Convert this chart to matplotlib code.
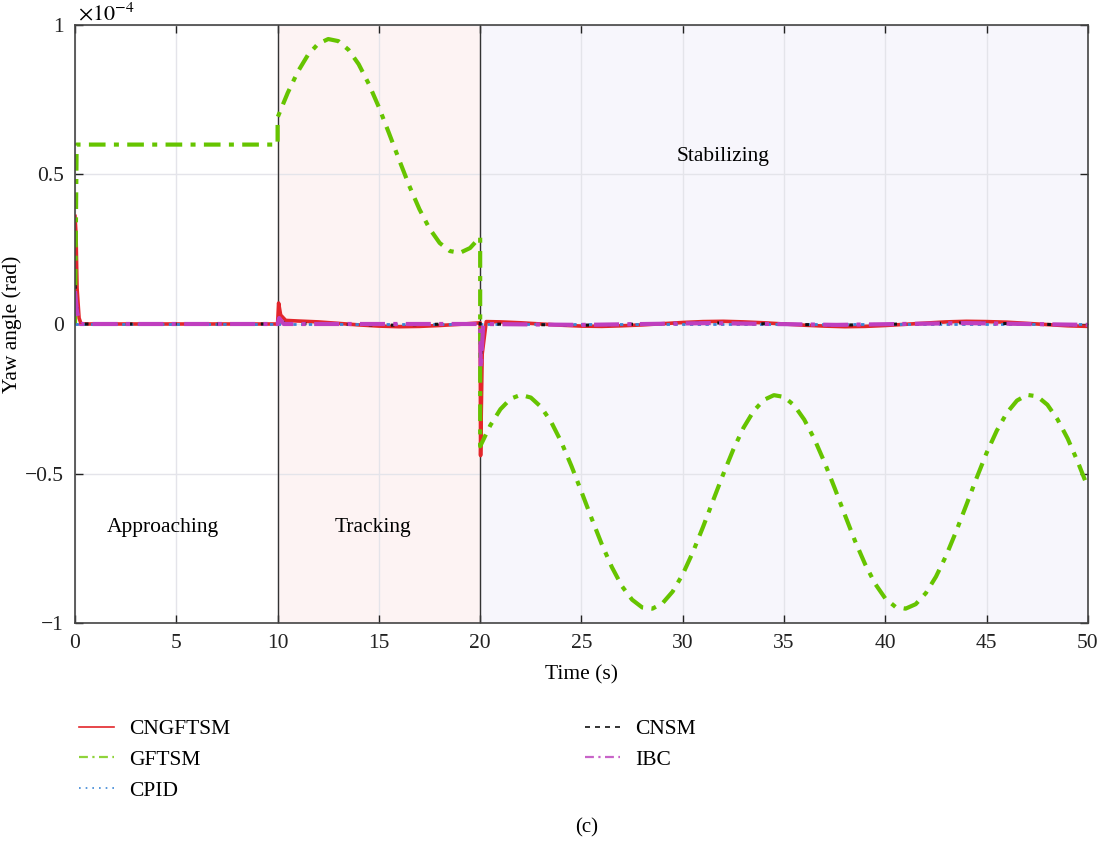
import matplotlib
matplotlib.use("Agg")
import matplotlib.pyplot as plt
from matplotlib.lines import Line2D

plt.rcParams['font.family'] = ['Liberation Serif', 'DejaVu Serif']
plt.rcParams['mathtext.fontset'] = 'stix'

# yaw angle in units of 1e-4 rad
t_gftsm = [0, 0.08, 10, 10,
           10.5, 11, 11.5, 12, 12.5, 13, 13.5, 14, 14.5, 15, 15.5, 16, 16.5,
           17, 17.5, 18, 18.5, 19, 19.5, 20, 20,
           20.5, 21, 21.5, 22, 22.5, 23, 23.5, 24, 24.5, 25, 25.5, 26, 26.5,
           27, 27.5, 28, 28.5, 29, 29.5, 30, 30.5, 31, 31.5, 32, 32.5, 33,
           33.5, 34, 34.5, 35, 35.5, 36, 36.5, 37, 37.5, 38, 38.5, 39, 39.5,
           40, 40.5, 41, 41.5, 42, 42.5, 43, 43.5, 44, 44.5, 45, 45.5, 46,
           46.5, 47, 47.5, 48, 48.5, 49, 49.5, 50]
y_gftsm = [0.0, 0.6, 0.6, 0.691,
           0.773, 0.844, 0.900, 0.937, 0.953, 0.946, 0.917, 0.869, 0.803,
           0.725, 0.638, 0.549, 0.462, 0.384, 0.319, 0.271, 0.244, 0.238,
           0.254, 0.291, -0.409,
           -0.339, -0.285, -0.250, -0.237, -0.246, -0.277, -0.327, -0.394,
           -0.474, -0.561, -0.650, -0.736, -0.813, -0.877, -0.922, -0.948,
           -0.952, -0.934, -0.895, -0.837, -0.763, -0.679, -0.590, -0.502,
           -0.419, -0.347, -0.291, -0.254, -0.238, -0.244, -0.272, -0.320,
           -0.385, -0.463, -0.549, -0.638, -0.725, -0.803, -0.869, -0.918,
           -0.946, -0.952, -0.937, -0.900, -0.845, -0.775, -0.693, -0.605,
           -0.516, -0.431, -0.357, -0.297, -0.256, -0.237, -0.242, -0.270,
           -0.319, -0.383, -0.461, -0.547]

t_cngftsm = [0, 0.05, 0.1, 0.2, 0.3, 10, 10.05, 10.15, 10.4, 11, 12, 13, 14,
             15, 16, 17, 18, 19, 20, 20.02, 20.1, 20.3, 21, 22, 23, 24, 25,
             26, 27, 28, 29, 30, 31, 32, 33, 34, 35, 36, 37, 38, 39, 40, 41,
             42, 43, 44, 45, 46, 47, 48, 49, 50]
y_cngftsm = [0.36, 0.3, 0.12, 0.02, 0.0, 0.0, 0.07, 0.03, 0.012, 0.01,
             0.007, 0.002, -0.003, -0.007, -0.009, -0.008, -0.005, -0.001,
             0.004, -0.44, -0.1, 0.008, 0.007, 0.004, 0.0, -0.004, -0.007,
             -0.008, -0.006, -0.003, 0.001, 0.005, 0.008, 0.009, 0.007,
             0.004, 0.0, -0.004, -0.007, -0.009, -0.008, -0.005, -0.001,
             0.003, 0.007, 0.009, 0.008, 0.006, 0.002, -0.002, -0.006,
             -0.008]

t_cpid = [0, 50]
y_cpid = [0.0, 0.0]

t_cnsm = [0, 0.1, 0.25, 10, 10.1, 10.4, 15.5, 20, 20.03, 20.15, 25, 31.3,
          37.6, 44, 50]
y_cnsm = [0.13, 0.05, 0.0, 0.0, 0.01, 0.002, -0.004, 0.002, -0.12, 0.0,
          -0.004, 0.004, -0.004, 0.004, -0.004]

t_ibc = [0, 0.1, 0.25, 10, 10.08, 10.3, 20, 20.03, 20.15, 25, 31.3, 37.6,
         44, 50]
y_ibc = [0.11, 0.04, 0.0, 0.0, 0.02, 0.0, 0.0, -0.15, 0.0, -0.003, 0.003,
         -0.003, 0.003, -0.003]

phase_edges = [0, 10, 20, 50]
phase_names = ["Approaching", "Tracking", "Stabilizing"]
phase_label_x = [4.35, 14.7, 32.0]
phase_label_y = [-0.68, -0.68, 0.56]

c_red = '#e3262b'
c_green = '#66c400'
c_blue = '#3b86d6'
c_black = '#111111'
c_mag = '#bf3fbf'

fig = plt.figure(figsize=(11, 8.41), dpi=100)
ax = fig.add_axes([0.0682, 0.2592, 0.9208, 0.7111])

ax.axvspan(phase_edges[1], phase_edges[2], color='#fdf3f3', zorder=0, lw=0)
ax.axvspan(phase_edges[2], phase_edges[3], color='#f7f6fc', zorder=0, lw=0)
ax.grid(True, color='#e4e4ea', lw=1.0, zorder=0.5)
ax.set_axisbelow(True)
for x in phase_edges[1:3]:
    ax.axvline(x, color='#333333', lw=1.0, zorder=1.5)

ax.plot(t_cngftsm, y_cngftsm, color=c_red, lw=2.6, zorder=2)
ax.plot(t_gftsm, y_gftsm, color=c_green, lw=3.0, dashes=(4, 2, 1.2, 2),
        zorder=2.1)
ax.plot(t_cpid, y_cpid, color=c_blue, lw=2.0, dashes=(1.2, 1.6), zorder=2.2)
ax.plot(t_cnsm, y_cnsm, color=c_black, lw=2.2, dashes=(1.2, 6), zorder=2.3)
ax.plot(t_ibc, y_ibc, color=c_mag, lw=3.0, dashes=(6, 2, 1, 2), zorder=2.4)

for name, x, y in zip(phase_names, phase_label_x, phase_label_y):
    ax.text(x, y, name, ha='center', va='center', fontsize=15.5)

ax.set_xlim(0, 50)
ax.set_ylim(-1, 1)
ax.set_xticks(range(0, 51, 5))
ax.set_yticks([-1, -0.5, 0, 0.5, 1])
ax.set_yticklabels(['\u22121', '\u22120.5', '0', '0.5', '1'])
ax.tick_params(direction='in', top=True, right=True, length=6, width=1,
               labelsize=15.5, colors='#222222', pad=8)
for s in ax.spines.values():
    s.set_color('#444444')
    s.set_linewidth(1.2)

ax.set_xlabel("Time (s)", fontsize=15.5, labelpad=9)
ax.set_ylabel("Yaw angle (rad)", fontsize=15.5)
ax.yaxis.set_label_coords(-0.052, 0.5)
fig.text(0.071, 0.997, r'$\times10^{-4}$', fontsize=16, ha='left', va='top')

h1 = [Line2D([], [], color=c_red, lw=1.2),
      Line2D([], [], color='#8fd33a', lw=1.6, dashes=(4, 2, 1, 2)),
      Line2D([], [], color=c_blue, lw=1.2, dashes=(1, 3))]
h2 = [Line2D([], [], color=c_black, lw=1.2, dashes=(3, 3)),
      Line2D([], [], color='#c864c8', lw=1.6, dashes=(4, 2, 1, 2))]
leg_kw = dict(frameon=False, fontsize=15.5, handlelength=1.6,
              handletextpad=0.7, labelspacing=0.5, borderaxespad=0,
              borderpad=0)
fig.legend(h1, ["CNGFTSM", "GFTSM", "CPID"], loc='upper left',
           bbox_to_anchor=(0.072, 0.145), **leg_kw)
fig.legend(h2, ["CNSM", "IBC"], loc='upper left',
           bbox_to_anchor=(0.532, 0.145), **leg_kw)

fig.text(0.5336, 0.016, "(c)", ha='center', va='center', fontsize=15)

fig.savefig("out.png", dpi=100)
